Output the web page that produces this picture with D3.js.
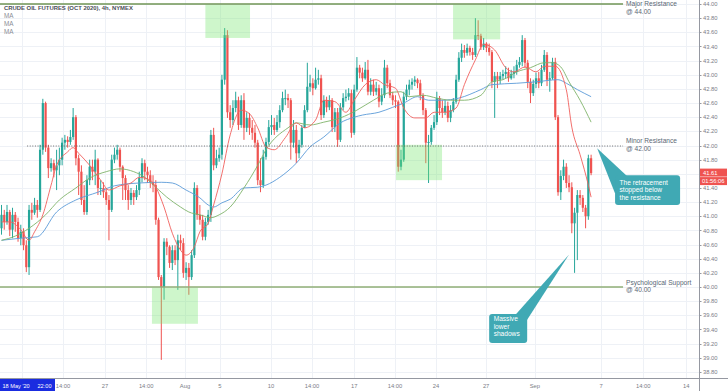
<!DOCTYPE html>
<html><head><meta charset="utf-8">
<script src="https://cdn.jsdelivr.net/npm/d3@7"></script>
<style>html,body{margin:0;padding:0;background:#fff;overflow:hidden}svg{display:block;font-family:"Liberation Sans",Arial,sans-serif}</style>
</head><body><svg id="c" width="728" height="391"></svg>
<script>
// ---------- DATA ----------
const firstOpen = 40.83;
const closes = [
41.02,40.92,41.06,40.81,41.02,40.92,40.69,40.78,40.59,40.28,
41.09,41.05,41.16,41.09,41.94,42.60,41.97,41.68,41.75,41.65,
41.72,41.80,42.04,42.08,42.05,42.12,42.40,41.82,41.63,41.23,
41.06,41.51,41.70,41.63,41.80,41.40,41.40,41.34,41.23,41.09,
41.80,41.87,41.94,41.70,41.54,41.37,41.23,41.33,41.27,41.37,
41.54,41.75,41.63,41.58,41.48,41.44,40.95,40.14,40.00,40.64,
40.57,40.34,40.52,40.38,40.66,40.62,40.20,40.27,40.14,40.45,
41.40,41.02,40.95,40.71,40.92,41.02,42.15,41.72,41.82,41.87,
42.93,43.56,42.47,42.36,42.53,42.64,42.29,42.64,42.25,42.39,
42.25,42.18,42.04,41.51,41.44,41.84,42.05,42.26,42.29,42.22,
42.33,42.50,42.67,42.67,42.64,42.04,42.22,41.89,42.01,42.25,
42.50,42.83,42.88,42.81,42.93,42.95,42.43,42.64,42.54,42.64,
42.26,42.47,42.08,42.54,42.67,42.69,42.74,42.18,42.79,43.10,
43.03,42.95,43.07,42.76,42.86,42.76,42.81,42.62,42.71,43.10,
42.88,42.71,42.64,42.62,41.70,41.80,42.69,42.79,42.86,42.90,
42.93,42.88,42.71,42.50,42.04,42.05,42.25,42.33,42.67,42.53,
42.47,42.56,42.39,42.50,42.62,42.93,43.24,43.35,43.31,43.38,
43.32,43.28,43.56,43.55,43.39,43.44,43.38,43.32,42.90,42.98,
42.93,42.98,43.01,43.04,42.95,43.01,43.04,43.14,43.18,43.49,
43.17,42.90,42.74,42.87,42.95,42.88,43.07,43.28,42.93,42.95,
43.18,42.40,41.34,41.57,41.70,41.47,41.41,40.90,41.05,41.30,
41.26,41.12,41.00,41.82,41.61];
const highs = [
41.16,41.09,41.16,41.09,41.12,41.06,40.98,40.88,40.83,40.66,
41.16,41.19,41.26,41.23,42.01,42.66,42.62,42.01,41.82,41.80,
41.94,41.97,42.11,42.15,42.13,42.22,42.53,42.43,41.87,41.72,
41.44,41.58,41.80,41.80,41.94,41.82,41.51,41.48,41.40,41.30,
41.87,41.97,42.01,41.97,41.72,41.58,41.44,41.40,41.37,41.44,
41.63,41.82,41.80,41.70,41.65,41.58,41.51,40.98,40.17,40.69,
40.69,40.59,40.59,40.59,40.74,40.74,40.69,40.35,40.34,40.52,
41.48,41.44,41.16,41.02,40.98,41.09,42.22,42.25,41.94,41.97,
43.00,43.66,43.63,42.57,42.64,42.76,42.69,42.71,42.74,42.47,
42.46,42.36,42.29,42.08,41.82,41.94,42.11,42.36,42.43,42.39,
42.43,42.57,42.76,42.79,42.73,42.67,42.36,42.29,42.08,42.29,
42.57,43.17,43.00,42.95,43.10,43.07,43.00,42.71,42.69,42.71,
42.67,42.53,42.53,42.60,42.74,42.79,42.81,42.79,42.86,43.25,
43.14,43.10,43.18,43.21,42.95,42.93,42.90,42.86,42.81,43.21,
43.14,42.93,42.76,42.71,42.64,41.94,42.76,42.86,42.93,42.95,
42.98,42.95,42.93,42.74,42.53,42.15,42.29,42.43,42.76,42.70,
42.64,42.64,42.62,42.57,42.67,43.00,43.32,43.44,43.42,43.44,
43.41,43.38,43.80,43.77,43.58,43.52,43.46,43.44,43.35,43.04,
43.04,43.04,43.07,43.12,43.10,43.07,43.12,43.21,43.25,43.56,
43.52,43.21,42.95,42.93,43.03,43.04,43.14,43.35,43.32,43.04,
43.24,43.24,42.43,41.65,41.80,41.75,41.58,41.48,41.12,41.37,
41.37,41.30,41.16,41.87,41.87];
const lows = [
40.74,40.81,40.88,40.72,40.69,40.78,40.64,40.59,40.52,40.21,
40.17,40.95,41.02,40.98,41.06,41.87,41.91,41.54,41.63,41.55,
41.37,41.58,41.72,41.94,41.97,42.01,42.08,41.72,41.30,41.16,
41.02,41.02,41.44,41.51,41.44,41.30,41.30,41.26,41.16,40.66,
41.06,41.75,41.80,41.63,41.23,41.23,41.09,41.16,41.16,41.23,
41.30,41.48,41.51,41.47,41.40,41.34,40.88,40.10,38.97,39.82,
40.45,40.27,40.24,40.31,39.96,40.52,40.13,40.10,39.89,40.10,
40.41,40.95,40.88,40.66,40.66,40.88,40.92,41.65,41.68,41.77,
41.80,42.86,42.39,42.25,42.29,42.47,42.22,42.25,42.08,42.19,
42.15,42.08,41.97,41.44,41.34,41.40,41.80,42.01,42.15,42.15,
42.19,42.25,42.47,42.57,42.53,41.80,41.97,41.75,41.82,41.97,
42.25,42.47,42.76,42.71,42.79,42.86,42.36,42.39,42.47,42.50,
42.19,42.19,41.98,42.05,42.50,42.62,42.64,42.11,42.15,42.76,
42.95,42.90,42.93,42.71,42.71,42.70,42.71,42.54,42.57,42.67,
42.81,42.67,42.57,42.53,41.63,41.65,41.77,42.64,42.71,42.79,
42.84,42.81,42.64,42.43,41.75,41.47,42.01,42.22,42.29,42.43,
42.39,42.43,42.33,42.33,42.47,42.59,42.90,43.18,43.24,43.27,
43.27,43.21,43.25,43.49,43.35,43.35,43.32,43.27,42.81,42.39,
42.81,42.87,42.93,42.95,42.90,42.93,42.95,43.00,43.10,43.12,
43.10,42.81,42.60,42.70,42.81,42.81,42.84,43.04,42.84,42.76,
42.93,42.36,41.29,41.23,41.51,41.40,41.34,40.76,40.20,40.38,
41.16,41.06,40.83,40.95,41.58];

// moving averages, read at sample bars
const maRedIdx = [0,3,7,10,12,15,18,20,24,26,28,32,36,39,43,47,50,54,56,59,62,65,67,70,72,75,77,80,83,87,90,93,96,99,103,107,110,114,117,121,125,128,132,136,139,143,146,150,154,157,161,165,168,172,175,179,183,186,190,194,197,201,205,207,210,213,214];
const maRedVal = [40.92,40.92,40.81,40.66,40.78,41.02,41.44,41.72,41.91,41.97,41.89,41.72,41.51,41.37,41.43,41.47,41.55,41.51,41.41,41.13,40.76,40.52,40.45,40.57,40.78,40.90,41.16,41.60,42.15,42.50,42.45,42.25,41.98,41.94,42.11,42.32,42.25,42.36,42.64,42.62,42.47,42.64,42.86,42.93,42.86,42.81,42.53,42.39,42.39,42.47,42.47,42.53,42.86,43.21,43.43,43.35,43.10,43.04,43.11,43.04,43.12,43.12,42.79,42.26,41.87,41.44,41.27];
const maGreenIdx = [0,5,10,16,21,27,32,38,43,48,52,56,60,65,68,72,76,79,83,88,93,96,104,107,112,117,123,129,135,140,145,148,153,158,163,168,174,178,182,187,192,197,200,203,206,210,214];
const maGreenVal = [40.66,40.72,40.83,41.02,41.23,41.40,41.54,41.63,41.67,41.63,41.55,41.41,41.27,41.13,41.06,41.02,40.98,41.02,41.13,41.40,41.72,41.94,42.25,42.32,42.29,42.33,42.39,42.50,42.64,42.74,42.76,42.69,42.71,42.67,42.64,42.64,42.71,42.90,42.93,43.04,43.10,43.17,43.17,43.11,42.90,42.64,42.33];
const maBlueIdx = [0,7,13,20,27,35,41,50,58,62,67,72,75,77,80,83,88,93,96,101,107,112,117,123,128,131,137,142,146,151,155,160,166,174,178,187,194,202,205,209,214];
const maBlueVal = [40.66,40.69,40.71,41.06,41.23,41.34,41.43,41.47,41.48,41.47,41.37,41.26,41.16,41.13,41.19,41.24,41.40,41.41,41.44,41.55,41.75,41.98,42.12,42.32,42.40,42.43,42.47,42.54,42.60,42.69,42.64,42.64,42.67,42.79,42.86,42.88,42.90,42.93,42.88,42.79,42.69];

const priceTicks = [38.8,39.0,39.2,39.4,39.6,39.8,40.0,40.2,40.4,40.6,40.8,41.0,41.2,41.4,41.6,41.8,42.0,42.2,42.4,42.6,42.8,43.0,43.2,43.4,43.6,43.8,44.0];
const timeTickIdx = [7.5,22.3,37.6,52.5,66.6,79.3,97.8,112.7,128,142.8,157.7,175.9,193.6,217.6,232.9,248.5];
const timeTickLabels = ["","14:00","27","14:00","Aug","5","10","14:00","17","14:00","24","27","Sep","7","14:00","14"];

const levelPrices = [44, 42, 40];
const levelNames = ["Major Resistance", "Minor Resistance", "Psychological Support"];
const levelSub = ["@ 44.00", "@ 42.00", "@ 40.00"];

// highlighted zones: [startBar, endBar, lowPrice, highPrice]
const zones = [[74,90.2,43.52,43.99],[143.2,159.9,41.51,42.01],[163.9,181,43.50,43.99],[54.6,71.3,39.48,39.99]];

const title = "CRUDE OIL FUTURES (OCT 2020), 4h, NYMEX";
const lastPrice = "41.61", countdown = "01:56:06";
const crossLabel = ["18 May '20", "22:00"];

// ---------- SCALES ----------
const svg = d3.select("#c");
const W = 728, H = 391, plotR = 699, plotB = 378;
const x = d3.scaleLinear().domain([0, 214]).range([1.5, 591.1]);
const y = d3.scaleLinear().domain([40, 44]).range([287, 4]);

const UP = "#26a69a", DN = "#ef5350";

// grid
const g = svg.append("g");
g.selectAll("line.hg").data(priceTicks).enter().append("line")
  .attr("x1", 0).attr("x2", plotR).attr("y1", d => Math.round(y(d)) + 0.5).attr("y2", d => Math.round(y(d)) + 0.5)
  .attr("stroke", "#eef1f6").attr("stroke-width", 1);
g.selectAll("line.vg").data(timeTickIdx).enter().append("line")
  .attr("y1", 0).attr("y2", plotB).attr("x1", d => Math.round(x(d)) + 0.5).attr("x2", d => Math.round(x(d)) + 0.5)
  .attr("stroke", "#eef1f6").attr("stroke-width", 1);

// candles
const cg = svg.append("g");
closes.forEach((c, i) => {
  const o = i === 0 ? firstOpen : closes[i - 1];
  const col = c >= o ? UP : DN;
  const cx = x(i);
  cg.append("rect").attr("x", cx - 0.5).attr("width", 1)
    .attr("y", y(highs[i])).attr("height", Math.max(0.5, y(lows[i]) - y(highs[i]))).attr("fill", col);
  const top = y(Math.max(o, c)), bot = y(Math.min(o, c));
  cg.append("rect").attr("x", cx - 1.1).attr("width", 2.2)
    .attr("y", top).attr("height", Math.max(1, bot - top)).attr("fill", col);
});

// moving averages
function maLine(idx, val, color) {
  const pts = idx.map((d, k) => [d, val[k]]);
  svg.append("path").datum(pts)
    .attr("d", d3.line().x(d => x(d[0])).y(d => y(d[1])).curve(d3.curveMonotoneX))
    .attr("fill", "none").attr("stroke", color).attr("stroke-width", 0.9);
}
maLine(maBlueIdx, maBlueVal, "#5b9bd8");
maLine(maGreenIdx, maGreenVal, "#7fb36a");
maLine(maRedIdx, maRedVal, "#f0605c");

// zones
svg.selectAll("rect.zone").data(zones).enter().append("rect")
  .attr("x", d => x(d[0])).attr("width", d => x(d[1]) - x(d[0]))
  .attr("y", d => y(d[3])).attr("height", d => y(d[2]) - y(d[3]))
  .attr("fill", "rgb(120,230,110)").attr("fill-opacity", 0.36);

// level lines
const lineEnd = x(225.6);
svg.append("line").attr("x1", 0).attr("x2", lineEnd).attr("y1", y(levelPrices[0])).attr("y2", y(levelPrices[0]))
  .attr("stroke", "#6f9455").attr("stroke-width", 1.3);
svg.append("line").attr("x1", x(9.3)).attr("x2", lineEnd).attr("y1", y(levelPrices[1]) + 0.5).attr("y2", y(levelPrices[1]) + 0.5)
  .attr("stroke", "#4a4a4a").attr("stroke-width", 0.8).attr("stroke-dasharray", "1,1.6");
svg.append("line").attr("x1", 0).attr("x2", lineEnd).attr("y1", y(levelPrices[2])).attr("y2", y(levelPrices[2]))
  .attr("stroke", "#8fae76").attr("stroke-width", 1.6);
levelPrices.forEach((p, k) => {
  const b1 = Math.max(y(p) - 2.5, 6.3);
  svg.append("text").attr("x", 626).attr("y", b1).attr("font-size", 6.6).attr("fill", "#5b6775").text(levelNames[k]);
  svg.append("text").attr("x", 626).attr("y", b1 + 7.5).attr("font-size", 6.6).attr("fill", "#5b6775").text(levelSub[k]);
});

// callouts
function callout(tip, base1, base2, box, lines, lineY) {
  svg.append("path").attr("d", d3.line()([tip, base1, base2]) + "Z").attr("fill", "#40a9b4");
  svg.append("rect").attr("x", box[0]).attr("y", box[1]).attr("width", box[2]).attr("height", box[3])
    .attr("rx", 3).attr("fill", "#40a9b4");
  lines.forEach((l, k) => svg.append("text").attr("x", box[0] + 4.5).attr("y", lineY[k])
    .attr("font-size", 6.6).attr("fill", "#fff").text(l));
}
callout([x(216.2), y(41.96)], [x(222.7), y(41.32)], [x(227.5), y(41.55)],
  [x(222.7), y(41.58), x(246.3) - x(222.7), y(41.16) - y(41.58)],
  ["The retracement", "stopped below", "the resistance"], [184.6, 192.2, 199.8]);
callout([x(206.0), y(40.46)], [x(186.8), y(39.62)], [x(190.5), y(39.52)],
  [x(177.0), y(39.62), x(190.8) - x(177.0), y(39.21) - y(39.62)],
  ["Massive", "lower", "shadows"], [321, 328.6, 336.2]);

// axes
svg.append("rect").attr("x", plotR).attr("y", 0).attr("width", W - plotR).attr("height", H).attr("fill", "#fff");
svg.append("rect").attr("x", 0).attr("y", plotB).attr("width", W).attr("height", H - plotB).attr("fill", "#fff");
svg.append("line").attr("x1", plotR + 0.5).attr("x2", plotR + 0.5).attr("y1", 0).attr("y2", H).attr("stroke", "#9598a1").attr("stroke-width", 1);
svg.append("line").attr("x1", 0).attr("x2", W).attr("y1", plotB + 0.5).attr("y2", plotB + 0.5).attr("stroke", "#9598a1").attr("stroke-width", 1);

const ya = svg.append("g");
priceTicks.forEach(p => {
  ya.append("line").attr("x1", plotR).attr("x2", plotR + 2.5).attr("y1", Math.round(y(p)) + 0.5).attr("y2", Math.round(y(p)) + 0.5).attr("stroke", "#9598a1");
  ya.append("text").attr("x", 703).attr("y", y(p) + 2.1).attr("font-size", 5.8).attr("fill", "#7a7d86").text(p.toFixed(2));
});
const xa = svg.append("g");
timeTickIdx.forEach((d, k) => {
  if (!timeTickLabels[k]) return;
  xa.append("text").attr("x", x(d)).attr("y", 387.5).attr("text-anchor", "middle")
    .attr("font-size", 5.8).attr("fill", "#7a7d86").text(timeTickLabels[k]);
});

// crosshair time label
svg.append("rect").attr("x", 0).attr("y", 379).attr("width", 55).attr("height", 12).attr("fill", "#1a2ce0");
svg.append("text").attr("x", 2.5).attr("y", 387.5).attr("font-size", 5.6).attr("fill", "#fff").text(crossLabel[0]);
svg.append("text").attr("x", 37.5).attr("y", 387.5).attr("font-size", 5.6).attr("fill", "#fff").text(crossLabel[1]);

// last price label
const ly = y(+lastPrice);
svg.append("rect").attr("x", 700).attr("y", ly - 4.5).attr("width", 27).attr("height", 8).attr("fill", "#ef5350");
svg.append("rect").attr("x", 700).attr("y", ly + 4).attr("width", 27).attr("height", 8).attr("fill", "#ef5350");
svg.append("text").attr("x", 703).attr("y", ly + 2).attr("font-size", 5.8).attr("fill", "#fff").text(lastPrice);
svg.append("text").attr("x", 702).attr("y", ly + 10.2).attr("font-size", 5.8).attr("fill", "#fff").text(countdown);

// legend
svg.append("text").attr("x", 4).attr("y", 10).attr("font-size", 5.9).attr("font-weight", "bold").attr("fill", "#4a4e57").text(title);
[17.5, 25.5, 33.5].forEach(v => svg.append("text").attr("x", 4).attr("y", v).attr("font-size", 6.3).attr("fill", "#8a8d95").text("MA"));
</script></body></html>
